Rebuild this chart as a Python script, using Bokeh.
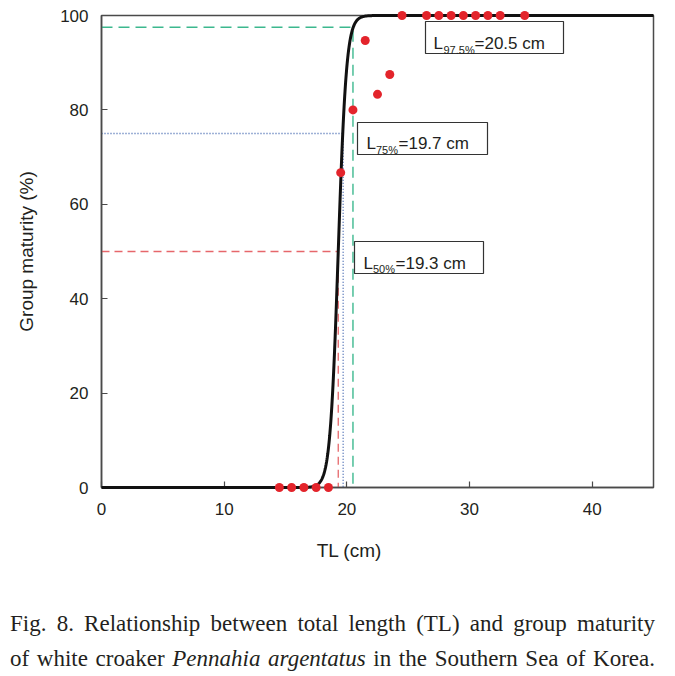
import numpy as np
from bokeh.plotting import figure
from bokeh.layouts import column
from bokeh.models import Label, BoxAnnotation, Range1d, FixedTicker, Div
from bokeh.embed import file_html
from bokeh.resources import INLINE

# ---------------- data ----------------
tl_obs = [14.5, 15.5, 16.5, 17.5, 18.5, 19.5, 20.5, 21.5, 22.5, 23.5,
          24.5, 26.5, 27.5, 28.5, 29.5, 30.5, 31.5, 32.5, 34.5]
maturity_obs = [0, 0, 0, 0, 0, 66.7, 80.0, 94.7, 83.3, 87.5,
                100, 100, 100, 100, 100, 100, 100, 100, 100]
L50 = 19.3
L75 = 19.7
L975 = 20.5
slope = 3.0
x_ticks = [0, 10, 20, 30, 40]
y_ticks = [0, 20, 40, 60, 80, 100]
x_max = 45
y_max = 100

x_title = "TL (cm)"
y_title = "Group maturity (%)"
caption_line1 = "Fig. 8. Relationship between total length (TL) and group maturity"
caption_line2_a = "of white croaker"
caption_species = "Pennahia argentatus"
caption_line2_b = "in the Southern Sea of Korea."

# fitted logistic maturity curve
tl_curve = np.linspace(0, x_max, 1801)
mat_curve = 100.0 / (1.0 + np.exp(-slope * (tl_curve - L50)))

# ---------------- layout helpers (image px -> data) ----------------
FL, FT, FW, FH = 101, 15, 552, 472


def ix(px):
    return (px - FL) / FW * x_max


def iy(py):
    return (FT + FH - py) / FH * y_max


SANS = "Liberation Sans"
SERIF = "Liberation Serif"
INK = "#231f20"
FRAME = "#4a4a4a"

p = figure(frame_width=FW, frame_height=FH,
           x_range=Range1d(0, x_max), y_range=Range1d(0, y_max),
           output_backend="svg", toolbar_location=None,
           min_border_left=FL, min_border_right=675 - FL - FW,
           min_border_top=FT, min_border_bottom=43)
p.outline_line_color = FRAME
p.outline_line_width = 1.5
p.xgrid.visible = False
p.ygrid.visible = False

for ax, ticks in ((p.xaxis, x_ticks), (p.yaxis, y_ticks)):
    ax.ticker = FixedTicker(ticks=ticks)
    ax.axis_line_color = FRAME
    ax.axis_line_width = 1.5
    ax.major_tick_in = 6
    ax.major_tick_out = 0
    ax.major_tick_line_color = FRAME
    ax.major_tick_line_width = 1.2
    ax.minor_tick_line_color = None
    ax.major_label_text_font = SANS
    ax.major_label_text_font_size = "17px"
    ax.major_label_text_color = INK
p.xaxis.major_label_standoff = 15
p.yaxis.major_label_standoff = 13
p.yaxis.axis_label = y_title
p.yaxis.axis_label_text_font = SANS
p.yaxis.axis_label_text_font_size = "19px"
p.yaxis.axis_label_text_font_style = "normal"
p.yaxis.axis_label_text_color = INK
p.yaxis.axis_label_standoff = 20

# reference lines
p.line([0, L975, L975], [97.5, 97.5, 0], line_color="#3cb88e",
       line_width=1.4, line_dash="11 6")
p.line([0, L75, L75], [75, 75, 0], line_color="#3d62ad",
       line_width=1.3, line_dash="1 2")
p.line([0, L50, L50], [50, 50, 0], line_color="#e6676b",
       line_width=1.3, line_dash="8 5")

# fitted curve
p.line(tl_curve, mat_curve, line_color="#111111", line_width=3, level="overlay")

# observations
p.scatter(tl_obs, maturity_obs, size=9, color="#e3242b", line_color=None,
          level="overlay")

# ---------------- annotation boxes ----------------
boxes = [
    (425, 563, 21, 53, [("L", 433, 43.3, "17px"), ("97.5%", 443, 49, "11px"),
                        ("=20.5 cm", 474, 43.3, "17px")]),
    (357, 487, 122, 154, [("L", 366, 143.3, "17px"), ("75%", 375.5, 149.3, "11px"),
                          ("=19.7 cm", 398, 143.3, "17px")]),
    (354, 483, 241, 273, [("L", 363, 263.3, "17px"), ("50%", 372.5, 268.3, "11px"),
                          ("=19.3 cm", 395, 263.3, "17px")]),
]
for l, r, t, b, texts in boxes:
    p.add_layout(BoxAnnotation(left=ix(l), right=ix(r), top=iy(t), bottom=iy(b),
                               fill_color="white", fill_alpha=1.0,
                               line_color="#333333", line_width=1.2, line_alpha=1.0))
    for txt, px, py, fs in texts:
        p.add_layout(Label(x=ix(px), y=iy(py), text=txt, text_font=SANS,
                           text_font_size=fs, text_color=INK,
                           text_baseline="alphabetic", text_align="left"))

# ---------------- lower panel: x title + caption (HTML) ----------------
TOP2 = 530
html = f"""
<div style="position:relative;width:675px;height:{676 - TOP2}px;margin:0;padding:0;color:{INK};">
  <div style="position:absolute;left:249px;top:11px;width:200px;text-align:center;
              font-family:'{SANS}';font-size:19px;line-height:19px;white-space:nowrap;">{x_title}</div>
  <div style="position:absolute;left:10px;top:82px;width:645px;
              font-family:'{SERIF}';font-size:23px;line-height:23px;
              text-align:justify;text-align-last:justify;white-space:normal;">{caption_line1}</div>
  <div style="position:absolute;left:10px;top:117px;width:645px;
              font-family:'{SERIF}';font-size:23px;line-height:23px;
              text-align:justify;text-align-last:justify;white-space:normal;">{caption_line2_a} <i>{caption_species}</i> {caption_line2_b}</div>
</div>
"""
cap = Div(text=html, width=675, height=676 - TOP2, margin=(0, 0, 0, 0))

layout = column(p, cap, spacing=0)
open("out.html", "w").write(file_html(layout, INLINE))
